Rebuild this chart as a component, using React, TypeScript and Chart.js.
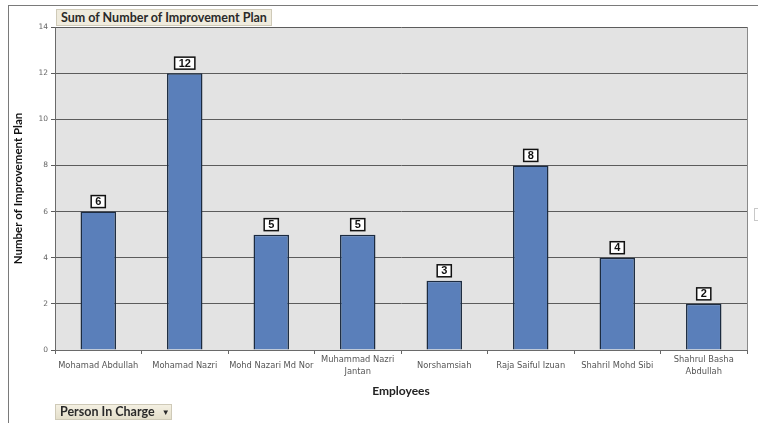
import React, { useEffect, useRef } from "react";
import { Chart, registerables } from "chart.js";

Chart.register(...registerables);

const categories: (string | string[])[] = [
  "Mohamad Abdullah",
  "Mohamad Nazri",
  "Mohd Nazari Md Nor",
  ["Muhammad Nazri", "Jantan"],
  "Norshamsiah",
  "Raja Saiful Izuan",
  "Shahril Mohd Sibi",
  ["Shahrul Basha", "Abdullah"],
];
const improvementPlans = [6, 12, 5, 5, 3, 8, 4, 2];
const yTicks = [0, 2, 4, 6, 8, 10, 12, 14];

const chartTitle = "Sum of Number of Improvement Plan";
const yTitle = "Number of Improvement Plan";
const xTitle = "Employees";
const filterLabel = "Person In Charge";

const plotBgPlugin = {
  id: "plotBg",
  beforeDraw(chart: any) {
    const { ctx, chartArea: a } = chart;
    ctx.save();
    ctx.fillStyle = "#e3e3e3";
    ctx.fillRect(a.left, a.top, a.right - a.left, a.bottom - a.top);
    ctx.restore();
  },
  afterDraw(chart: any) {
    const { ctx, chartArea: a } = chart;
    ctx.save();
    ctx.strokeStyle = "#8a8a8a";
    ctx.lineWidth = 1;
    ctx.beginPath();
    ctx.moveTo(a.right + 0.5, a.top);
    ctx.lineTo(a.right + 0.5, a.bottom);
    ctx.stroke();
    ctx.restore();
  },
};

const dataLabelPlugin = {
  id: "boxLabels",
  afterDatasetsDraw(chart: any) {
    const { ctx } = chart;
    const meta = chart.getDatasetMeta(0);
    const data = chart.data.datasets[0].data;
    ctx.save();
    ctx.font = "bold 11px 'Liberation Sans', Arial, sans-serif";
    ctx.textAlign = "center";
    ctx.textBaseline = "middle";
    meta.data.forEach((bar: any, i: number) => {
      const txt = String(data[i]);
      const w = ctx.measureText(txt).width + 8;
      const h = 12;
      const bx = bar.x - w / 2;
      const by = bar.y - 4 - h;
      ctx.fillStyle = "#ffffff";
      ctx.fillRect(bx, by, w, h);
      ctx.strokeStyle = "#111111";
      ctx.lineWidth = 1.5;
      ctx.strokeRect(bx, by, w, h);
      ctx.fillStyle = "#111111";
      ctx.fillText(txt, bar.x, by + h / 2 + 0.5);
    });
    ctx.restore();
  },
};

export default function App() {
  const ref = useRef<HTMLCanvasElement | null>(null);

  useEffect(() => {
    if (!ref.current) return;
    const chart = new Chart(ref.current, {
      type: "bar",
      data: {
        labels: categories,
        datasets: [
          {
            label: "Sum of Number of Improvement Plan",
            data: improvementPlans,
            backgroundColor: "#5a7fba",
            borderColor: "#1c2b40",
            borderWidth: 1.5,
            categoryPercentage: 1,
            barPercentage: 0.41,
          },
        ],
      },
      options: {
        animation: false,
        responsive: false,
        maintainAspectRatio: false,
        devicePixelRatio: 1,
        layout: { padding: { left: 8, right: 11, top: 27, bottom: 25 } },
        plugins: {
          legend: { display: false },
          tooltip: { enabled: false },
          title: { display: false },
        },
        scales: {
          x: {
            afterFit(scale: any) {
              scale.height = 48;
            },
            grid: {
              offset: true,
              drawOnChartArea: false,
              drawTicks: true,
              tickLength: 4,
              color: "#666666",
            },
            border: { color: "#6a6a6a", width: 1 },
            ticks: {
              color: "#555555",
              font: { family: "'DejaVu Sans', Verdana, sans-serif", size: 8.3, lineHeight: 1.4 },
              maxRotation: 0,
              minRotation: 0,
              autoSkip: false,
              padding: 6,
              crossAlign: "center",
            },
            title: {
              display: true,
              text: xTitle,
              color: "#222222",
              font: { family: "Lato, 'Open Sans', sans-serif", size: 12, weight: "bold" },
              padding: { top: 8, bottom: 0 },
            },
          },
          y: {
            min: 0,
            max: 14,
            afterBuildTicks(scale: any) {
              scale.ticks = yTicks.map((v) => ({ value: v }));
            },
            afterFit(scale: any) {
              scale.width = 47;
            },
            grid: {
              color: "#5c5c5c",
              lineWidth: 1,
              drawTicks: true,
              tickLength: 4,
            },
            border: { color: "#6a6a6a", width: 1 },
            ticks: {
              color: "#666666",
              font: { family: "'DejaVu Sans', Verdana, sans-serif", size: 7.5 },
              padding: 3,
            },
            title: {
              display: true,
              text: yTitle,
              color: "#111111",
              font: { family: "Lato, 'Open Sans', sans-serif", size: 11.5, weight: "bold" },
              padding: { top: 3, bottom: 10 },
            },
          },
        },
      },
      plugins: [plotBgPlugin, dataLabelPlugin],
    });
    return () => chart.destroy();
  }, []);

  return (
    <div
      style={{
        position: "absolute",
        left: 0,
        top: 0,
        width: 758,
        height: 423,
        background: "#ffffff",
        overflow: "hidden",
      }}
    >
      <div
        style={{
          position: "absolute",
          left: 8,
          top: 5,
          width: 750,
          height: 418,
          borderLeft: "1px solid #7a7a7a",
          borderTop: "1px solid #7a7a7a",
          boxSizing: "border-box",
        }}
      />
      <canvas ref={ref} width={758} height={423} style={{ position: "absolute", left: 0, top: 0 }} />
      <div
        style={{
          position: "absolute",
          left: 56,
          top: 9,
          height: 15,
          padding: "0 4px",
          background: "#efebdd",
          border: "1px solid #cfcab8",
          fontFamily: "Lato, 'Open Sans', sans-serif",
          fontWeight: "bold",
          fontSize: 12.5,
          lineHeight: "15px",
          color: "#2a2a2a",
          whiteSpace: "nowrap",
        }}
      >
        {chartTitle}
      </div>
      <div
        style={{
          position: "absolute",
          left: 55,
          top: 404,
          width: 117,
          height: 16,
          boxSizing: "border-box",
          background: "linear-gradient(#f4f0e2, #e4dfcb)",
          border: "1px solid #cfcab8",
          fontFamily: "Lato, 'Open Sans', sans-serif",
          fontWeight: "bold",
          fontSize: 12.5,
          lineHeight: "14px",
          color: "#2a2a2a",
          paddingLeft: 4,
          whiteSpace: "nowrap",
        }}
      >
        {filterLabel}
        <span style={{ fontSize: 8, marginLeft: 7, verticalAlign: "1px" }}>▼</span>
      </div>
      <div
        style={{
          position: "absolute",
          left: 754,
          top: 208,
          width: 8,
          height: 13,
          border: "1px solid #c8c8c8",
          boxSizing: "border-box",
        }}
      />
    </div>
  );
}
